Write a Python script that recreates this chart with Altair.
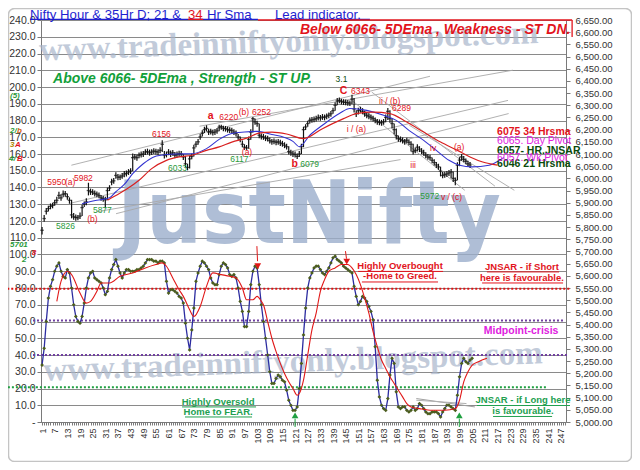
import altair as alt
import pandas as pd

# ---------------- oscillator (left axis 0-240) ----------------
osc_blue = [
 34,44,60,74,81,85,90,93,95,90,
 87,86,91,89,80,70,63,60,59,63,
 71,80,86,89,90,86,85,84,83,80,
 76,78,86,91,94,97,93,89,86,89,
 91,91,90,90,90,91,91,92,93,95,
 97,97,97,96,96,95,96,96,95,84,
 77,79,79,78,77,75,74,71,59,50,
 43,55,68,84,89,93,96,95,93,91,
 86,83,82,82,88,93,95,94,92,88,
 87,88,86,80,72,66,57,57,66,82,
 90,93,92,82,70,60,50,40,30,23,
 23,26,28,27,25,24,19,13,10,7,
 7,9,20,35,52,68,80,86,89,92,
 93,93,91,89,88,90,92,95,98,99,
 97,96,95,93,92,91,90,89,81,75,
 70,72,75,74,72,69,66,61,45,25,
 15,10,8,7,14,28,38,35,18,9,
 8,9,9,7,6,7,9,7,8,11,
 10,8,6,5,5,6,6,6,5,3,
 6,8,10,10,9,8,7,16,27,35,
 38,36,35,37,38]
osc_red_idx = [8,10,13,15,19,22,24,27,29,33,38,44,50,55,58,60,63,66,68,71,73,76,79,82,86,90,93,96,98,101,
               103,105,106,108,110,112,114,116,118,120,122,123,125,127,129,131,133,135,137,140,143,146,148,150,
               152,154,156,158,160,162,164,166,168,170,172,174,176,180,186,192,197,199,201,203,205,208,212]
osc_red_val = [72,84,90,88,77,71,72,78,83,83,87,89,92,94,95,93,86,79,75,67,63,69,81,89,88,87,86,80,73,73,
               75,72,70,60,50,42,35,29,24,20,16,17,25,40,55,65,78,85,90,92,94,94,92,88,
               82,74,65,54,45,37,32,27,23,19,15,11,9,8,7,7,8,13,24,30,34,36,38]

# ---------------- price (right axis 5000-6650) ----------------
bar_close = [
 5787,5835,5865,5876,5885,5889,5900,5910,5930,5920,
 5935,5937,5925,5910,5850,5842,5840,5838,5845,5880,
 5895,5903,5950,5945,5944,5938,5935,5930,5920,5917,
 5912,5950,5960,5985,5990,6012,6005,6005,6010,6018,
 6020,6026,6030,6085,6088,6085,6095,6098,6100,6108,
 6110,6105,6108,6112,6110,6108,6115,6140,6095,6098,
 6108,6100,6105,6095,6098,6101,6100,6088,6060,6045,
 6080,6090,6125,6140,6150,6170,6185,6200,6205,6190,
 6192,6188,6190,6195,6210,6212,6205,6204,6200,6198,
 6197,6190,6184,6170,6160,6140,6128,6125,6160,6190,
 6245,6232,6225,6177,6172,6170,6165,6163,6155,6150,
 6152,6148,6150,6145,6142,6136,6130,6110,6105,6100,
 6098,6090,6100,6130,6200,6211,6225,6238,6240,6242,
 6245,6250,6248,6252,6250,6255,6259,6265,6278,6300,
 6318,6320,6315,6313,6312,6310,6309,6325,6285,6266,
 6278,6282,6275,6265,6259,6255,6250,6245,6238,6232,
 6230,6228,6232,6250,6275,6245,6225,6200,6175,6163,
 6160,6155,6150,6155,6148,6140,6110,6115,6128,6120,
 6112,6105,6095,6088,6085,6074,6065,6055,6047,6030,
 6012,6015,6018,6022,6026,6000,5992,6054,6075,6088,
 6078,6070,6060,6055]
bar_high = [
 5800,5850,5878,5888,5897,5900,5912,5925,5945,5935,
 5950,5948,5938,5922,5912,5858,5852,5850,5860,5892,
 5905,5918,5982,5958,5955,5950,5946,5942,5932,5928,
 5925,5962,5972,5998,6002,6025,6018,6016,6022,6030,
 6032,6038,6042,6102,6100,6098,6106,6110,6112,6120,
 6122,6118,6120,6124,6122,6120,6128,6156,6112,6110,
 6120,6114,6116,6108,6110,6113,6112,6100,6092,6060,
 6092,6102,6138,6152,6162,6182,6197,6212,6218,6204,
 6204,6200,6202,6207,6220,6220,6216,6215,6212,6210,
 6208,6202,6196,6182,6172,6155,6140,6137,6172,6202,
 6252,6246,6236,6225,6184,6182,6177,6175,6168,6162,
 6164,6160,6162,6158,6154,6148,6142,6132,6117,6112,
 6110,6102,6112,6142,6212,6222,6236,6250,6252,6254,
 6257,6262,6260,6264,6262,6266,6270,6277,6290,6312,
 6330,6332,6327,6325,6324,6322,6320,6343,6330,6280,
 6290,6294,6288,6277,6271,6267,6262,6257,6250,6244,
 6242,6240,6244,6262,6289,6280,6246,6225,6205,6176,
 6172,6168,6162,6167,6160,6152,6142,6127,6140,6132,
 6124,6117,6107,6100,6097,6086,6078,6067,6060,6048,
 6026,6027,6030,6034,6038,6028,6004,6066,6087,6100,
 6092,6082,6072,6067]
bar_low = [
 5770,5822,5852,5864,5873,5877,5888,5897,5915,5908,
 5922,5925,5912,5896,5836,5830,5826,5828,5833,5846,
 5882,5890,5930,5932,5932,5926,5922,5918,5908,5904,
 5877,5912,5948,5972,5978,5998,5992,5993,5998,6005,
 6008,6014,6018,6030,6076,6072,6083,6086,6088,6096,
 6098,6093,6096,6100,6098,6096,6103,6108,6082,6086,
 6095,6088,6093,6083,6086,6089,6088,6075,6045,6033,
 6040,6078,6090,6128,6138,6158,6172,6186,6193,6178,
 6180,6176,6178,6183,6193,6200,6193,6192,6188,6186,
 6185,6178,6172,6158,6148,6128,6117,6117,6122,6158,
 6188,6220,6212,6165,6160,6158,6153,6151,6143,6138,
 6140,6136,6138,6133,6130,6124,6118,6098,6093,6088,
 6086,6079,6088,6100,6128,6198,6212,6225,6228,6230,
 6233,6238,6236,6240,6238,6243,6247,6253,6265,6278,
 6300,6308,6303,6301,6300,6298,6297,6305,6270,6252,
 6262,6270,6263,6253,6247,6243,6238,6233,6226,6220,
 6218,6216,6220,6230,6240,6228,6205,6180,6160,6150,
 6148,6143,6138,6143,6136,6110,6098,6103,6110,6108,
 6100,6093,6083,6076,6073,6062,6053,6043,6035,6008,
 6000,6003,6006,6010,6000,5985,5972,5992,6050,6072,
 6066,6058,6048,6043]

ma21_idx = [20,27,33,36,40,44,49,54,60,66,72,79,85,91,97,103,110,116,120,123,128,134,142,147,155,163,169,175,182,188,194,199,205,213,218,220]
ma21_val = [5896,5910,5920,5945,5975,6019,6060,6088,6098,6100,6101,6122,6160,6184,6190,6193,6180,6168,6152,6130,6177,6218,6266,6287,6279,6259,6238,6197,6156,6115,6074,6054,6047,6054,6074,6085]
ma34_idx = [32,36,41,47,53,60,66,72,79,85,91,98,104,110,117,125,134,144,150,158,166,174,182,190,198,204,210,217]
ma34_val = [5910,5930,5955,5992,6040,6074,6088,6095,6115,6129,6149,6165,6186,6190,6182,6163,6204,6245,6266,6272,6266,6231,6190,6149,6115,6088,6067,6054]

# trend lines (idx, price) -> (idx, price)
tl_i1 = [14.9, 75.7, 14.0, 36.1, 27.0, 147.9, 157.4, 175.2]
tl_p1 = [6054, 6214, 5897, 5855, 5863, 6320, 6354, 6218]
tl_i2 = [185.0, 224.3, 222.0, 222.3, 171.0, 201.5, 215.8, 225.0]
tl_p2 = [6419, 6444, 6320, 6266, 6077, 5951, 5968, 5951]

RED = "#e2141c"
GRN = "#2a9a3a"
DGRN = "#0b4a0b"
MAG = "#e020e0"

lbl_text = ["5950","(a)","5982","(b)","5826","5877","6156","6033","6220","(b)","6252","(a)","6117","6079",
            "3.1","6343","ii / (b)","6289","i / (a)","iii","iv","(a)","5972","v / (c)"]
lbl_idx = [8.0,14.3,20.6,24.9,12.1,29.6,57.6,65.2,89.5,96.7,105.1,98.2,94.6,127.9,
           143.0,152.0,165.9,171.5,150.1,177.0,186.5,198.8,184.9,195.2]
lbl_price = [5984,5984,6000,5832,5803,5869,6181,6041,6251,6271,6271,6108,6080,6058,
             6406,6359,6316,6290,6201,6054,6126,6129,5926,5924]
lbl_color = [RED,RED,RED,RED,GRN,GRN,RED,GRN,RED,RED,RED,RED,GRN,GRN,
             DGRN,RED,RED,RED,RED,RED,RED,RED,GRN,RED]
wave_text = ["a", "b", "C"]
wave_idx = [81.0, 120.8, 144.0]
wave_price = [6255, 6061, 6357]

lvl_text = ["6075 34 Hrsma", "6065. Day Pivot", "6057- HR.JNSAR", "6057. Wk.Pivot", "6046 21 Hrsma"]
lvl_price = [6191, 6155, 6114, 6085, 6057]
lvl_color = [RED, MAG, DGRN, MAG, DGRN]
lvl_bold = [True, False, True, False, True]

# ---------------- scales & axes ----------------
XS = alt.Scale(domain=[0.5, 249.5], nice=False, zero=False)
YOS = alt.Scale(domain=[0, 240], nice=False, zero=False)
YPS = alt.Scale(domain=[5000, 6650], nice=False, zero=False)

XAX = alt.Axis(values=list(range(1, 250)), labelExpr="(datum.value - 1) % 6 == 0 ? datum.label : ''",
               labelAngle=270, labelAlign="right", labelBaseline="middle", labelFontSize=9,
               labelColor="#333333", tickSize=3, tickColor="#7a7a7a", domainColor="#7a7a7a",
               labelPadding=3, labelOverlap=False, grid=False, title=None, format="d")
YOAX = alt.Axis(values=list(range(0, 241, 10)),
                labelExpr="datum.value == 0 ? '-' : format(datum.value, '.1f')",
                grid=True, gridColor="#8a8a8a", gridWidth=1, tickSize=4, tickColor="#7a7a7a",
                domainColor="#7a7a7a", labelFontSize=10.5, labelColor="#333333", labelPadding=2,
                title=None, orient="left")
YPAX = alt.Axis(values=list(range(5000, 6651, 50)), format=",.2f", orient="right", grid=False,
                tickSize=4, tickColor="#7a7a7a", domainColor="#7a7a7a", labelFontSize=9.5,
                labelColor="#333333", labelPadding=5, title=None)


def X(f):
    return alt.X(f, type="quantitative", scale=XS, axis=XAX)


def YO(f):
    return alt.Y(f, type="quantitative", scale=YOS, axis=YOAX)


def YP(f):
    return alt.Y(f, type="quantitative", scale=YPS, axis=YPAX)


def texts(df, yfun, **mk):
    return alt.Chart(df).mark_text(**mk).encode(
        x=X("i"), y=yfun("v"), text="t:N", color=alt.Color("c:N", scale=None))


def segs(df, yfun, **mk):
    return alt.Chart(df).mark_rule(**mk).encode(
        x=X("i1"), x2=alt.X2("i2"), y=yfun("v1"), y2=alt.Y2("v2"), color=alt.Color("c:N", scale=None))


# ---------------- oscillator group ----------------
osc_df = pd.DataFrame({"i": list(range(1, len(osc_blue) + 1)), "v": osc_blue})
oscr_df = pd.DataFrame({"i": osc_red_idx, "v": osc_red_val})

frame = alt.Chart(pd.DataFrame({"a": [0]})).mark_rect(
    filled=False, stroke="#c4c4c4", strokeWidth=1.5, cornerRadius=6).encode(
    x=alt.value(-32.5), x2=alt.value(590.5), y=alt.value(-11.5), y2=alt.value(441.5))

wm_df = pd.DataFrame({"t": ["www.tradeinniftyonly.blogspot.com", "www.tradeinniftyonly.blogspot.com"],
                      "i": [118.0, 120.0], "v": [227.0, 35.8], "c": ["#a9b6cb", "#a9b6cb"]})
wm = texts(wm_df, YO, font="Liberation Serif", fontSize=33, fontWeight="bold", angle=358,
           align="center", baseline="middle", opacity=0.7)
jn_df = pd.DataFrame({"t": ["JustNifty"], "i": [127.6], "v": [106.9], "c": ["#9cafcc"]})
jn = texts(jn_df, YO, font="'Liberation Sans Narrow', 'DejaVu Sans Condensed', sans-serif",
           fontSize=87, fontWeight="bold", align="center", baseline="alphabetic", opacity=0.8)

dots_df = pd.DataFrame({"i1": [-15.5, -3.3, -3.3, -15.2], "i2": [252.0, 249.0, 250.0, 240.5],
                        "v1": [79.6, 60.6, 40.0, 20.8], "v2": [79.6, 60.6, 40.0, 20.8],
                        "c": ["#dd1111", "#7040a0", "#7040a0", "#1fa040"]})
dots = segs(dots_df, YO, strokeDash=[2, 2], strokeWidth=2)

oscl_df = pd.DataFrame({"i1": [178.5, 178.5], "i2": [206.3, 202.3], "v1": [14, 13], "v2": [9, 11],
                        "c": ["#a0a0a0", "#b0b0b0"]})
oscl = segs(oscl_df, YO, strokeWidth=1)

blue_line = alt.Chart(osc_df).mark_line(color="#2c2ca0", strokeWidth=1.3).encode(x=X("i"), y=YO("v"))
blue_pts = alt.Chart(osc_df).mark_point(shape="diamond", filled=True, size=14, color="#4c5e1c",
                                        opacity=1).encode(x=X("i"), y=YO("v"))
red_line = alt.Chart(oscr_df).mark_line(color="#e01818", strokeWidth=1.1, interpolate="monotone").encode(
    x=X("i"), y=YO("v"))

arr_line_df = pd.DataFrame({"i1": [102.9, 144.9, 121.0, 198.9], "i2": [103.2, 145.4, 121.0, 198.9],
                            "v1": [105.0, 102.0, 2.0, 2.0], "v2": [96.0, 97.5, -3.0, -3.0],
                            "c": ["#e01818", "#e01818", "#1fa040", "#1fa040"]})
arr_lines = segs(arr_line_df, YO, strokeWidth=1)
arr_dn = alt.Chart(pd.DataFrame({"i": [103.3, 145.5], "v": [93.0, 95.7]})).mark_point(
    shape="triangle-down", filled=True, size=45, color="#e01818", opacity=1).encode(x=X("i"), y=YO("v"))
arr_up = alt.Chart(pd.DataFrame({"i": [121.0, 198.9], "v": [4.0, 4.0]})).mark_point(
    shape="triangle-up", filled=True, size=45, color="#1fa040", opacity=1).encode(x=X("i"), y=YO("v"))

osc_notes_df = pd.DataFrame({
    "t": ["Highly Overbought", "-Home to Greed.", "JNSAR - if Short", "here is favourable.",
          "JNSAR - if Long here", "is favourable.", "Highly Oversold", "Home to FEAR."],
    "i": [170.8, 170.8, 228.6, 228.6, 229.1, 229.1, 84.5, 84.5],
    "v": [93.1, 86.9, 92.5, 86.0, 13.1, 6.6, 11.9, 6.0],
    "c": [RED, RED, RED, RED, "#22a050", "#22a050", "#22a050", "#22a050"]})
osc_notes = texts(osc_notes_df, YO, fontSize=9.5, fontWeight="bold", align="center", baseline="middle")
mid_df = pd.DataFrame({"t": ["Midpoint-crisis"], "i": [228.2], "v": [54.3], "c": [MAG]})
mid = texts(mid_df, YO, fontSize=10.5, fontWeight="bold", align="center", baseline="middle")

ul_df = pd.DataFrame({
    "i1": [150.9, 152.7, 212.0, 209.7, 207.3, 214.9, 67.4, 68.8],
    "i2": [191.2, 188.8, 246.2, 248.1, 251.4, 242.9, 102.5, 100.6],
    "v1": [89.9, 83.6, 89.6, 83.0, 9.85, 3.3, 9.0, 3.0],
    "v2": [89.9, 83.6, 89.6, 83.0, 9.85, 3.3, 9.0, 3.0],
    "c": [RED, RED, RED, RED, "#22a050", "#22a050", "#22a050", "#22a050"]})
uls = segs(ul_df, YO, strokeWidth=1)

# header texts (positioned in left-axis units above the plot)
title_df = pd.DataFrame({"t": ["Nifty Hour & 35Hr D; 21 & ", "34", "Hr Sma", "Lead indicator."],
                         "i": [-4.7, 70.2, 79.2, 111.5], "v": [242.8] * 4,
                         "c": ["#1f1fd0", RED, "#1f1fd0", "#1f1fd0"]})
title = texts(title_df, YO, fontSize=13.2, align="left", baseline="middle")
hdr_ul_df = pd.DataFrame({"i1": [-4.7, 70.2, 111.5, 103.4, 252.4], "i2": [103.4, 77.4, 156.5, 252.4, 252.4],
                          "v1": [240.4, 240.4, 240.4, 240.0, 240.0], "v2": [240.4, 240.4, 240.4, 240.0, 229.9],
                          "c": ["#1f1fd0", RED, "#1f1fd0", RED, RED]})
hdr_ul = segs(hdr_ul_df, YO, strokeWidth=1.3)
below_df = pd.DataFrame({"t": ["Below 6066-  5DEma ,  Weakness - ST  DN."], "i": [251.6], "v": [234.0],
                         "c": [RED]})
below = texts(below_df, YO, fontSize=14, fontWeight="bold", fontStyle="italic", align="right",
              baseline="middle")
above_df = pd.DataFrame({"t": ["Above 6066-  5DEma ,  Strength - ST  UP."], "i": [6.2], "v": [204.6],
                         "c": ["#12a03a"]})
above = texts(above_df, YO, fontSize=14, fontWeight="bold", fontStyle="italic", align="left",
              baseline="middle")

side_df = pd.DataFrame({
    "t": ["(5)", "2/", "b", "3", "A", "4/", "B", "5701", "8", "2"],
    "i": [-14.2, -14.2, -10.9, -14.2, -11.8, -14.7, -10.9, -14.2, -3.9, -8.5],
    "v": [194.6, 173.7, 173.7, 165.4, 165.4, 156.8, 156.8, 105.7, 101.0, 96.7],
    "c": [GRN, GRN, "#d06010", "#b08a00", RED, GRN, RED, GRN, RED, GRN]})
side = texts(side_df, YO, fontSize=8, fontWeight="bold", fontStyle="italic", align="left",
             baseline="middle")

osc_group = alt.layer(frame, wm, jn, dots, oscl, blue_line, blue_pts, red_line, arr_lines, arr_dn, arr_up,
                      osc_notes, mid, uls, title, hdr_ul, below, above, side)

# ---------------- price group ----------------
bars_df = pd.DataFrame({"i": list(range(1, len(bar_close) + 1)), "lo": bar_low, "hi": bar_high,
                        "cl": bar_close})
tl_df = pd.DataFrame({"i1": tl_i1, "i2": tl_i2, "v1": tl_p1, "v2": tl_p2, "c": ["#a8a8a8"] * len(tl_i1)})
tlines = segs(tl_df, YP, strokeWidth=0.9)

bars = alt.Chart(bars_df).mark_rule(color="#111111", strokeWidth=1.2).encode(
    x=X("i"), y=YP("lo"), y2=alt.Y2("hi"))
ticks = alt.Chart(bars_df).mark_tick(orient="horizontal", size=3.5, thickness=1.3, color="#111111").encode(
    x=X("i"), y=YP("cl"))
ma21 = alt.Chart(pd.DataFrame({"i": ma21_idx, "v": ma21_val})).mark_line(
    color="#3434d0", strokeWidth=1.1, interpolate="monotone").encode(x=X("i"), y=YP("v"))
ma34 = alt.Chart(pd.DataFrame({"i": ma34_idx, "v": ma34_val})).mark_line(
    color="#d82020", strokeWidth=1.2, interpolate="monotone").encode(x=X("i"), y=YP("v"))

lbl_df = pd.DataFrame({"t": lbl_text, "i": lbl_idx, "v": lbl_price, "c": lbl_color})
lbls = texts(lbl_df, YP, fontSize=8.5, align="center", baseline="middle")
wave_df = pd.DataFrame({"t": wave_text, "i": wave_idx, "v": wave_price, "c": [RED] * 3})
waves = texts(wave_df, YP, fontSize=10.5, fontWeight="bold", align="center", baseline="middle")

lvl_df = pd.DataFrame({"t": lvl_text, "i": [216.8] * 5, "v": lvl_price, "c": lvl_color, "b": lvl_bold})
lvl_b = texts(lvl_df[lvl_df["b"]].drop(columns="b"), YP, fontSize=10.5, fontWeight="bold", align="left",
              baseline="middle")
lvl_n = texts(lvl_df[~lvl_df["b"]].drop(columns="b"), YP, fontSize=10.5, align="left", baseline="middle")

price_group = alt.layer(tlines, bars, ticks, ma21, ma34, lbls, waves, lvl_b, lvl_n)

chart = alt.layer(osc_group, price_group).resolve_scale(y="independent").properties(
    width=525, height=402,
    padding={"left": 33, "top": 12, "right": 66, "bottom": 40},
    autosize=alt.AutoSizeParams(type="none"),
    background="white",
).configure_view(stroke=None).configure(font="Liberation Sans")

chart.save("out.html", embed_options={"renderer": "svg", "actions": False})
